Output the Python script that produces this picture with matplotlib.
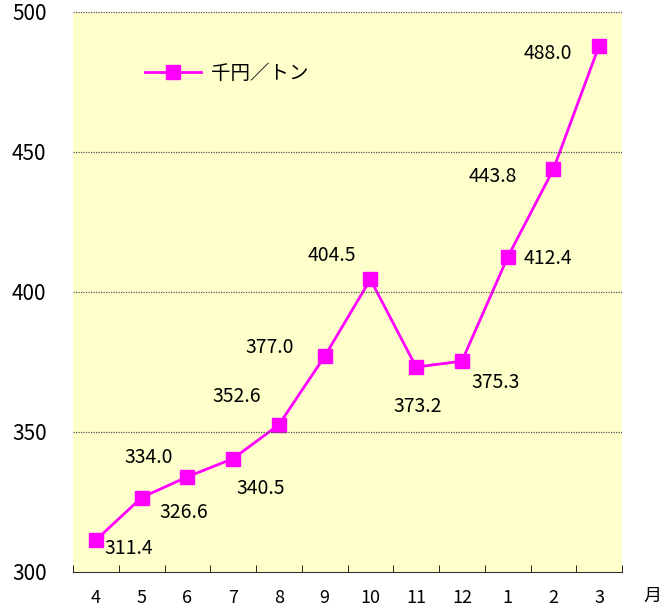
import matplotlib
matplotlib.use("Agg")
import matplotlib.pyplot as plt
from matplotlib.ticker import FixedLocator

plt.rcParams['font.family'] = ['Noto Sans CJK JP', 'DejaVu Sans']

months = ['4', '5', '6', '7', '8', '9', '10', '11', '12', '1', '2', '3']
price = [311.4, 326.6, 334.0, 340.5, 352.6, 377.0, 404.5, 373.2, 375.3, 412.4, 443.8, 488.0]
# label offsets in pixels (dx, dy)
label_off = [(33, -8), (42, -15), (-39, 19), (28, -30), (-42, 28), (-55, 9),
             (-39, 24), (2, -39), (34, -21), (40, -1), (-61, -7), (-51, -8)]

fig = plt.figure(figsize=(6.64, 6.11), dpi=100)
ax = fig.add_axes([73/664, 1 - 572/611, 549/664, 560/611])
ax.set_facecolor('#FFFFCC')

x = list(range(len(months)))
ax.plot(x, price, color='#FF00FF', lw=2, marker='s', markersize=10, label='千円／トン')

for xi, v, (dx, dy) in zip(x, price, label_off):
    ax.annotate(f'{v:.1f}', (xi, v), xytext=(dx * 0.72, dy * 0.72), textcoords='offset points',
                ha='center', va='center', fontsize=14)

ax.set_xlim(-0.5, len(months) - 0.5)
ax.set_ylim(300, 500)
ax.set_yticks([300, 350, 400, 450, 500])
ax.set_yticklabels(['300', '350', '400', '450', '500'], fontsize=15)
ax.tick_params(axis='y', length=0, pad=19)
ax.set_xticks(x)
ax.set_xticklabels(months, fontsize=13)
ax.tick_params(axis='x', which='major', length=0, pad=12)
ax.xaxis.set_minor_locator(FixedLocator([i - 0.5 for i in range(len(months) + 1)]))
ax.tick_params(axis='x', which='minor', direction='in', length=5, color='black')

for s in ['left', 'right', 'top']:
    ax.spines[s].set_visible(False)
ax.spines['bottom'].set_color('#333333')

for g in [350, 400, 450, 500]:
    ax.axhline(g, color='#555555', lw=0.9, ls=(0, (1, 1)))

fig.text(652/664, 1 - 596/611, '月', ha='center', va='center', fontsize=13)

ax.legend(loc='center left', bbox_to_anchor=(72/549, 1 - 61/560), frameon=False, fontsize=14,
          handlelength=2.9, handletextpad=0.5, borderaxespad=0, borderpad=0)

fig.savefig('out.png', dpi=100)
